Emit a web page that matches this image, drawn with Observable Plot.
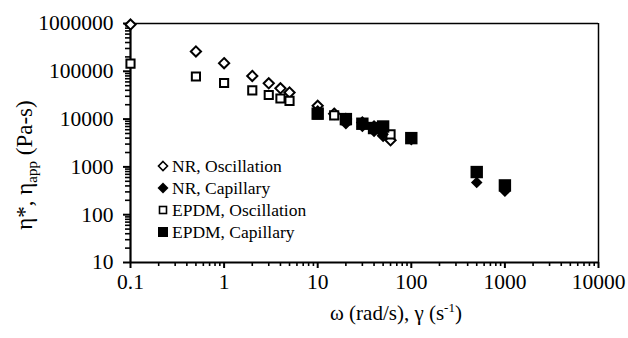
<!DOCTYPE html>
<html><head><meta charset="utf-8">
<script src="https://cdn.jsdelivr.net/npm/d3@7"></script>
<script src="https://cdn.jsdelivr.net/npm/@observablehq/plot@0.6"></script>
<style>
body{margin:0;background:#fff;}
#wrap{position:relative;width:628px;height:338px;}
</style></head><body><div id="wrap"></div>
<script>
// tick values and labels
const xTicks = [0.1, 1, 10, 100, 1000, 10000];
const xTickLabels = ["0.1", "1", "10", "100", "1000", "10000"];
const yTicks = [10, 100, 1000, 10000, 100000, 1000000];
const yTickLabels = ["10", "100", "1000", "10000", "100000", "1000000"];

// series
const oscFreq = [0.1, 0.5, 1, 2, 3, 4, 5, 10, 15, 20, 30, 40, 50, 60];
const nrOsc   = [950000, 260000, 148000, 80000, 56000, 44000, 36000, 19000, 13000, 10000, 8500, 7000, 4500, 3600];
const epdmOsc = [145000, 78000, 57000, 40000, 32000, 27000, 24000, 12500, 12000, 9500, 8000, 6500, 5500, 4800];
const capRate = [10, 20, 30, 40, 50, 100, 500, 1000];
const nrCap   = [15000, 8000, 7000, 5500, 4800, 3700, 470, 310];
const epdmCap = [13000, 10000, 8000, 6500, 7000, 4000, 780, 410];

const seriesNames = ["NR, Oscillation", "NR, Capillary", "EPDM, Oscillation", "EPDM, Capillary"];

const minorX = [];
for (const d of [0.1, 1, 10, 100, 1000]) for (let k = 2; k <= 9; k++) minorX.push(d * k);
const minorY = [];
for (const d of [10, 100, 1000, 10000, 100000]) for (let k = 2; k <= 9; k++) minorY.push(d * k);

const osc = oscFreq.map((x, i) => ({x, nr: nrOsc[i], ep: epdmOsc[i]}));
const cap = capRate.map((x, i) => ({x, nr: nrCap[i], ep: epdmCap[i]}));

const font = "Liberation Serif";
const plot = Plot.plot({
  width: 628, height: 338,
  marginLeft: 130, marginRight: 30, marginTop: 23, marginBottom: 76,
  style: {fontFamily: font, color: "#000", background: "#fff", overflow: "visible"},
  x: {type: "log", domain: [0.1, 10000], axis: null},
  y: {type: "log", domain: [10, 1000000], axis: null},
  marks: [
    Plot.ruleY([1000000], {stroke: "#000", strokeWidth: 1.5}),
    Plot.ruleX([10000], {stroke: "#000", strokeWidth: 1.5}),
    Plot.axisX(minorX, {tickSize: 4, tickFormat: () => "", label: null, strokeWidth: 1.6}),
    Plot.axisX(xTicks, {tickSize: 6, tickFormat: () => "", label: null, strokeWidth: 2}),
    Plot.axisY(minorY, {tickSize: 5, tickFormat: () => "", label: null, strokeWidth: 1.6}),
    Plot.axisY(yTicks, {tickSize: 7, tickFormat: () => "", label: null, strokeWidth: 2}),
    Plot.text(xTicks, {x: d => d, text: (d, i) => xTickLabels[i], frameAnchor: "bottom", dy: 26,
      fontSize: 21.5, fontFamily: font, fill: "#000", textAnchor: "middle"}),
    Plot.text(yTicks, {y: d => d, text: (d, i) => yTickLabels[i], frameAnchor: "left", dx: -17,
      fontSize: 21.5, fontFamily: font, fill: "#000", textAnchor: "end"}),
    Plot.ruleY([10], {stroke: "#000", strokeWidth: 2}),
    Plot.ruleX([0.1], {stroke: "#000", strokeWidth: 2.2}),
    Plot.dot(osc, {x: "x", y: "nr", symbol: "diamond2", r: 4.6, stroke: "#000", strokeWidth: 2, fill: "#fff"}),
    Plot.dot(osc, {x: "x", y: "ep", symbol: "square", r: 4.6, stroke: "#000", strokeWidth: 2, fill: "#fff"}),
    Plot.dot(cap, {x: "x", y: "nr", symbol: "diamond2", r: 5.2, fill: "#000", stroke: "none"}),
    Plot.dot(cap, {x: "x", y: "ep", symbol: "square", r: 7, fill: "#000", stroke: "none"})
  ]
});
document.getElementById("wrap").appendChild(plot);

const svg = d3.select(plot);
// x title
const xt = svg.append("text").attr("x", 330).attr("y", 320).attr("text-anchor", "start")
  .attr("font-family", font).attr("font-size", 21).attr("fill", "#000");
xt.append("tspan").text("ω (rad/s), γ (s");
xt.append("tspan").attr("font-size", 13).attr("dy", -8).text("-1");
xt.append("tspan").attr("dy", 8).text(")");
// y title
const yt = svg.append("text").attr("transform", "translate(32,165) rotate(-90)").attr("text-anchor", "middle")
  .attr("font-family", font).attr("font-size", 23).attr("fill", "#000");
yt.append("tspan").text("η*, η");
yt.append("tspan").attr("font-size", 15).attr("dy", 5).text("app");
yt.append("tspan").attr("dy", -5).text(" (Pa-s)");

// legend (inside the svg)
const legX = 163, legY0 = 166, legDy = 22;
const lg = svg.append("g").attr("text-anchor", "start");
seriesNames.forEach((n, i) => {
  const cy = legY0 + i * legDy;
  if (i === 0) lg.append("path").attr("d", `M${legX},${cy-4.5} L${legX+4.5},${cy} L${legX},${cy+4.5} L${legX-4.5},${cy}Z`).attr("fill", "#fff").attr("stroke", "#000").attr("stroke-width", 1.6);
  if (i === 1) lg.append("path").attr("d", `M${legX},${cy-5.5} L${legX+5.5},${cy} L${legX},${cy+5.5} L${legX-5.5},${cy}Z`).attr("fill", "#000");
  if (i === 2) lg.append("rect").attr("x", legX - 3.5).attr("y", cy - 3.5).attr("width", 7).attr("height", 7).attr("fill", "#fff").attr("stroke", "#000").attr("stroke-width", 1.6);
  if (i === 3) lg.append("rect").attr("x", legX - 5).attr("y", cy - 5).attr("width", 10).attr("height", 10).attr("fill", "#000");
  lg.append("text").attr("x", legX + 9).attr("y", cy + 6).attr("text-anchor", "start")
    .attr("font-family", font).attr("font-size", 17.5).attr("fill", "#000").text(n);
});
</script></body></html>
